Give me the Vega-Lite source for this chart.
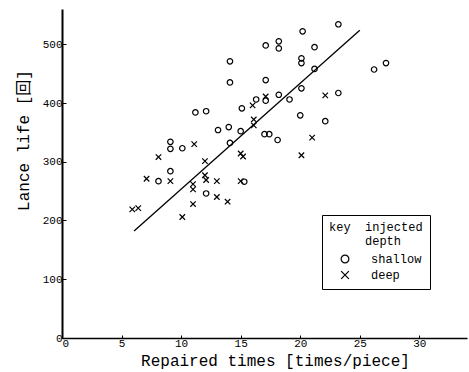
{
  "$schema": "https://vega.github.io/schema/vega-lite/v6.json",
  "width": 405,
  "height": 329,
  "autosize": "none",
  "padding": {"left": 62, "top": 9, "right": 2, "bottom": 34},
  "background": "white",
  "datasets": {
    "points": [
      {"times": 23.2, "life": 534, "depth": "shallow"},
      {"times": 20.2, "life": 522, "depth": "shallow"},
      {"times": 17.1, "life": 498, "depth": "shallow"},
      {"times": 18.2, "life": 505, "depth": "shallow"},
      {"times": 18.2, "life": 493, "depth": "shallow"},
      {"times": 21.2, "life": 495, "depth": "shallow"},
      {"times": 20.1, "life": 476, "depth": "shallow"},
      {"times": 20.1, "life": 468, "depth": "shallow"},
      {"times": 21.2, "life": 458, "depth": "shallow"},
      {"times": 17.1, "life": 439, "depth": "shallow"},
      {"times": 20.1, "life": 425, "depth": "shallow"},
      {"times": 18.2, "life": 414, "depth": "shallow"},
      {"times": 19.1, "life": 406, "depth": "shallow"},
      {"times": 23.2, "life": 417, "depth": "shallow"},
      {"times": 16.3, "life": 406, "depth": "shallow"},
      {"times": 17.1, "life": 404, "depth": "shallow"},
      {"times": 15.1, "life": 391, "depth": "shallow"},
      {"times": 20.0, "life": 379, "depth": "shallow"},
      {"times": 14.1, "life": 471, "depth": "shallow"},
      {"times": 14.1, "life": 435, "depth": "shallow"},
      {"times": 11.2, "life": 384, "depth": "shallow"},
      {"times": 12.1, "life": 386, "depth": "shallow"},
      {"times": 13.1, "life": 354, "depth": "shallow"},
      {"times": 14.0, "life": 359, "depth": "shallow"},
      {"times": 15.0, "life": 352, "depth": "shallow"},
      {"times": 14.1, "life": 332, "depth": "shallow"},
      {"times": 9.1, "life": 334, "depth": "shallow"},
      {"times": 9.1, "life": 322, "depth": "shallow"},
      {"times": 10.1, "life": 323, "depth": "shallow"},
      {"times": 9.1, "life": 284, "depth": "shallow"},
      {"times": 8.1, "life": 267, "depth": "shallow"},
      {"times": 15.3, "life": 266, "depth": "shallow"},
      {"times": 12.1, "life": 246, "depth": "shallow"},
      {"times": 22.1, "life": 369, "depth": "shallow"},
      {"times": 17.0, "life": 347, "depth": "shallow"},
      {"times": 17.4, "life": 347, "depth": "shallow"},
      {"times": 18.1, "life": 337, "depth": "shallow"},
      {"times": 26.2, "life": 457, "depth": "shallow"},
      {"times": 27.2, "life": 468, "depth": "shallow"},
      {"times": 22.1, "life": 413, "depth": "deep"},
      {"times": 17.1, "life": 411, "depth": "deep"},
      {"times": 16.0, "life": 396, "depth": "deep"},
      {"times": 16.1, "life": 372, "depth": "deep"},
      {"times": 16.1, "life": 362, "depth": "deep"},
      {"times": 11.1, "life": 330, "depth": "deep"},
      {"times": 8.1, "life": 308, "depth": "deep"},
      {"times": 12.0, "life": 301, "depth": "deep"},
      {"times": 7.1, "life": 271, "depth": "deep"},
      {"times": 9.1, "life": 267, "depth": "deep"},
      {"times": 12.0, "life": 277, "depth": "deep"},
      {"times": 12.1, "life": 269, "depth": "deep"},
      {"times": 11.0, "life": 262, "depth": "deep"},
      {"times": 11.0, "life": 253, "depth": "deep"},
      {"times": 13.0, "life": 267, "depth": "deep"},
      {"times": 15.0, "life": 267, "depth": "deep"},
      {"times": 15.0, "life": 314, "depth": "deep"},
      {"times": 15.2, "life": 309, "depth": "deep"},
      {"times": 13.0, "life": 240, "depth": "deep"},
      {"times": 13.9, "life": 232, "depth": "deep"},
      {"times": 11.0, "life": 228, "depth": "deep"},
      {"times": 10.1, "life": 206, "depth": "deep"},
      {"times": 5.9, "life": 219, "depth": "deep"},
      {"times": 6.4, "life": 221, "depth": "deep"},
      {"times": 21.0, "life": 341, "depth": "deep"},
      {"times": 20.1, "life": 311, "depth": "deep"}
    ],
    "fit": [
      {"times": 6.05, "life": 182},
      {"times": 25.0, "life": 524}
    ]
  },
  "layer": [
    {
      "data": {"name": "fit"},
      "mark": {"type": "line", "color": "black", "strokeWidth": 1.3},
      "encoding": {
        "x": {"field": "times", "type": "quantitative", "scale": {"domain": [0, 34]}},
        "y": {"field": "life", "type": "quantitative", "scale": {"domain": [0, 560]}}
      }
    },
    {
      "data": {"name": "points"},
      "mark": {"type": "point", "filled": false, "color": "black", "size": 30, "strokeWidth": 1.2, "opacity": 1},
      "encoding": {
        "x": {
          "field": "times", "type": "quantitative",
          "scale": {"domain": [0, 34], "nice": false, "zero": false},
          "axis": {
            "title": "Repaired times [times/piece]",
            "values": [0, 5, 10, 15, 20, 25, 30],
            "domainWidth": 1.5,
            "tickSize": -3,
            "labelPadding": 2,
            "titleX": 213,
            "titlePadding": 4
          }
        },
        "y": {
          "field": "life", "type": "quantitative",
          "scale": {"domain": [0, 560], "nice": false},
          "axis": {
            "title": "Lance life [回]",
            "values": [0, 100, 200, 300, 400, 500],
            "domainWidth": 2,
            "tickSize": -4,
            "labelPadding": 4,
            "titleX": -31,
            "titleY": 131
          }
        },
        "shape": {
          "field": "depth", "type": "nominal",
          "scale": {"domain": ["shallow", "deep"], "range": ["circle", "M-1,-1L1,1M-1,1L1,-1"]},
          "legend": {
            "title": ["key\u00a0\u00a0injected", "\u200b\u00a0\u00a0\u00a0\u00a0\u00a0depth"],
            "orient": "none",
            "legendX": 260,
            "legendY": 206,
            "padding": 7,
            "strokeColor": "black",
            "symbolSize": 60,
            "symbolStrokeColor": "black",
            "symbolStrokeWidth": 1.2,
            "symbolOffset": 10,
            "labelOffset": 20,
            "rowPadding": 2,
            "titlePadding": 5,
            "titleFontWeight": "normal",
            "titleFontSize": 12,
            "titleLineHeight": 14,
            "labelFontSize": 12,
            "labelLimit": 200
          }
        }
      }
    }
  ],
  "config": {
    "view": {"stroke": null},
    "font": "Liberation Mono, Noto Sans CJK JP",
    "axis": {
      "grid": false,
      "domainColor": "black",
      "tickColor": "black",
      "labelColor": "black",
      "titleColor": "black",
      "labelFontSize": 11,
      "titleFontSize": 16,
      "titleFontWeight": "normal"
    },
    "legend": {"labelColor": "black", "titleColor": "black"}
  }
}
